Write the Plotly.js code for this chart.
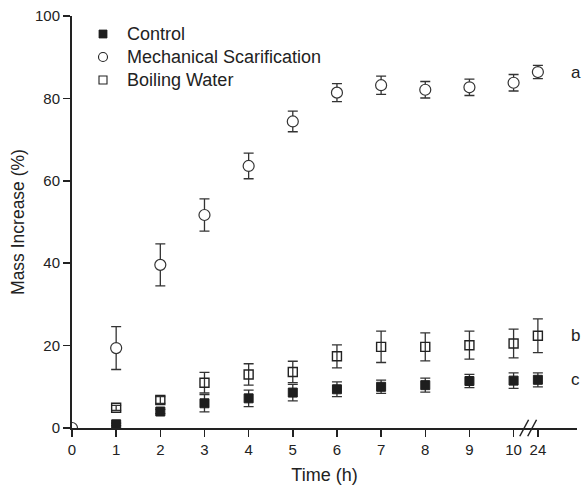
<!DOCTYPE html>
<html>
<head>
<meta charset="utf-8">
<script src="https://cdn.plot.ly/plotly-3.0.1.min.js"></script>
<style>html,body{margin:0;padding:0;background:#fff;}#chart{width:582px;height:489px;}</style>
</head>
<body>
<div id="chart"></div>
<script>
// Time points (h) and the broken-axis position used for each
const tickLabels = ['0','1','2','3','4','5','6','7','8','9','10','24'];
const tickPositions = [0,1,2,3,4,5,6,7,8,9,10,10.55];

const timesMech = ['0','1','2','3','4','5','6','7','8','9','10','24'];
const mechanical = [0, 19.4, 39.6, 51.7, 63.6, 74.4, 81.4, 83.2, 82.1, 82.7, 83.8, 86.4];
const mechanicalErr = [0, 5.2, 5.1, 3.9, 3.1, 2.5, 2.2, 2.2, 2.0, 2.0, 2.0, 1.6];

const timesOther = ['1','2','3','4','5','6','7','8','9','10','24'];
const boiling = [4.9, 6.8, 11.0, 13.0, 13.6, 17.4, 19.7, 19.7, 20.1, 20.5, 22.4];
const boilingErr = [0.6, 0.8, 2.5, 2.6, 2.6, 2.8, 3.8, 3.4, 3.4, 3.5, 4.1];
const control = [0.9, 4.0, 6.0, 7.2, 8.6, 9.4, 10.0, 10.4, 11.4, 11.5, 11.7];
const controlErr = [0.3, 0.5, 2.1, 2.0, 2.0, 1.8, 1.6, 1.7, 1.6, 1.9, 1.7];

const groupLetters = ['a', 'b', 'c'];
const seriesNames = ['Control', 'Mechanical Scarification', 'Boiling Water'];

const pos = t => tickPositions[tickLabels.indexOf(t)];

const FONT = '"Liberation Sans", Arial, Helvetica, sans-serif';
const INK = '#222';

const W = 582, H = 489, ML = 72, MR = 5, MT = 16, MB = 61;
const PW = W - ML - MR, PH = H - MT - MB;
const px2x = px => (px - ML) / PW;
const px2y = py => (H - MB - py) / PH;

function errBar(arr) {
  return {type: 'data', array: arr, visible: true, color: '#333', thickness: 1.3, width: 5};
}

const traces = [
  {
    name: seriesNames[0], type: 'scatter', mode: 'markers',
    x: timesOther.map(pos), y: control, error_y: errBar(controlErr),
    marker: {symbol: 'square', size: 9, color: '#1e1e1e', line: {color: '#1e1e1e', width: 1}}
  },
  {
    name: seriesNames[2], type: 'scatter', mode: 'markers',
    x: timesOther.map(pos), y: boiling, error_y: errBar(boilingErr),
    marker: {symbol: 'square-open', size: 9, color: '#222', line: {color: '#222', width: 1.4}}
  },
  {
    name: seriesNames[1], type: 'scatter', mode: 'markers',
    x: timesMech.map(pos), y: mechanical, error_y: errBar(mechanicalErr),
    marker: {symbol: 'circle', size: 11, color: '#fff', line: {color: '#333', width: 1.2}}
  }
];

// label positions (letters beside the 24 h values)
const letterY = [mechanical[mechanical.length-1], boiling[boiling.length-1], control[control.length-1]];

// custom legend (rows in pixel space)
const legendRowsPx = [34, 57, 80];
const legendMarkerPx = 103, legendTextPx = 125;
const legendShapes = [];
const legendKinds = ['fillsq', 'circle', 'opensq'];
legendKinds.forEach((k, i) => {
  const cy = legendRowsPx[i];
  const r = k === 'circle' ? 4.5 : 4;
  legendShapes.push({
    type: k === 'circle' ? 'circle' : 'rect', xref: 'paper', yref: 'paper',
    x0: px2x(legendMarkerPx - r), x1: px2x(legendMarkerPx + r),
    y0: px2y(cy + r), y1: px2y(cy - r),
    fillcolor: k === 'fillsq' ? '#1e1e1e' : '#fff',
    line: {color: '#222', width: k === 'fillsq' ? 0.8 : 1.1}
  });
});
const legendAnn = seriesNames.map((n, i) => ({
  text: n, xref: 'paper', yref: 'paper', x: px2x(legendTextPx), y: px2y(legendRowsPx[i]),
  xanchor: 'left', yanchor: 'middle', showarrow: false,
  font: {family: FONT, size: 18, color: INK}
}));

const layout = {
  width: W, height: H,
  margin: {l: ML, r: MR, t: MT, b: MB},
  paper_bgcolor: '#fff', plot_bgcolor: '#fff',
  font: {family: FONT, color: INK, size: 15},
  showlegend: false,
  xaxis: {
    range: [0, 11.436], showgrid: false, zeroline: false,
    showline: true, linecolor: INK, linewidth: 2,
    ticks: 'outside', ticklen: 7, tickwidth: 1.5, tickcolor: INK,
    tickmode: 'array', tickvals: tickPositions, ticktext: tickLabels,
    tickfont: {family: FONT, size: 15, color: INK},
    title: {text: 'Time (h)', font: {family: FONT, size: 18, color: INK}, standoff: 11}
  },
  yaxis: {
    range: [0, 100], showgrid: false, zeroline: false,
    showline: true, linecolor: INK, linewidth: 2,
    ticks: 'outside', ticklen: 7, tickwidth: 1.5, tickcolor: INK,
    tickmode: 'array', tickvals: [0,20,40,60,80,100],
    tickfont: {family: FONT, size: 15, color: INK},
    title: {text: 'Mass Increase (%)', font: {family: FONT, size: 17.5, color: INK}, standoff: 6}
  },
  annotations: groupLetters.map((l, i) => ({
    text: l, x: 11.26, y: letterY[i], xref: 'x', yref: 'y',
    xanchor: 'left', yanchor: 'middle', showarrow: false,
    font: {family: FONT, size: 17, color: INK}
  })).concat(legendAnn),
  shapes: [
    {type: 'line', xref: 'x', yref: 'paper', x0: 10.14, x1: 10.34, y0: -0.02, y1: 0.02, line: {color: INK, width: 1.5}},
    {type: 'line', xref: 'x', yref: 'paper', x0: 10.32, x1: 10.52, y0: -0.02, y1: 0.02, line: {color: INK, width: 1.5}}
  ].concat(legendShapes)
};

Plotly.newPlot('chart', traces, layout, {displayModeBar: false, staticPlot: true});
</script>
</body>
</html>
